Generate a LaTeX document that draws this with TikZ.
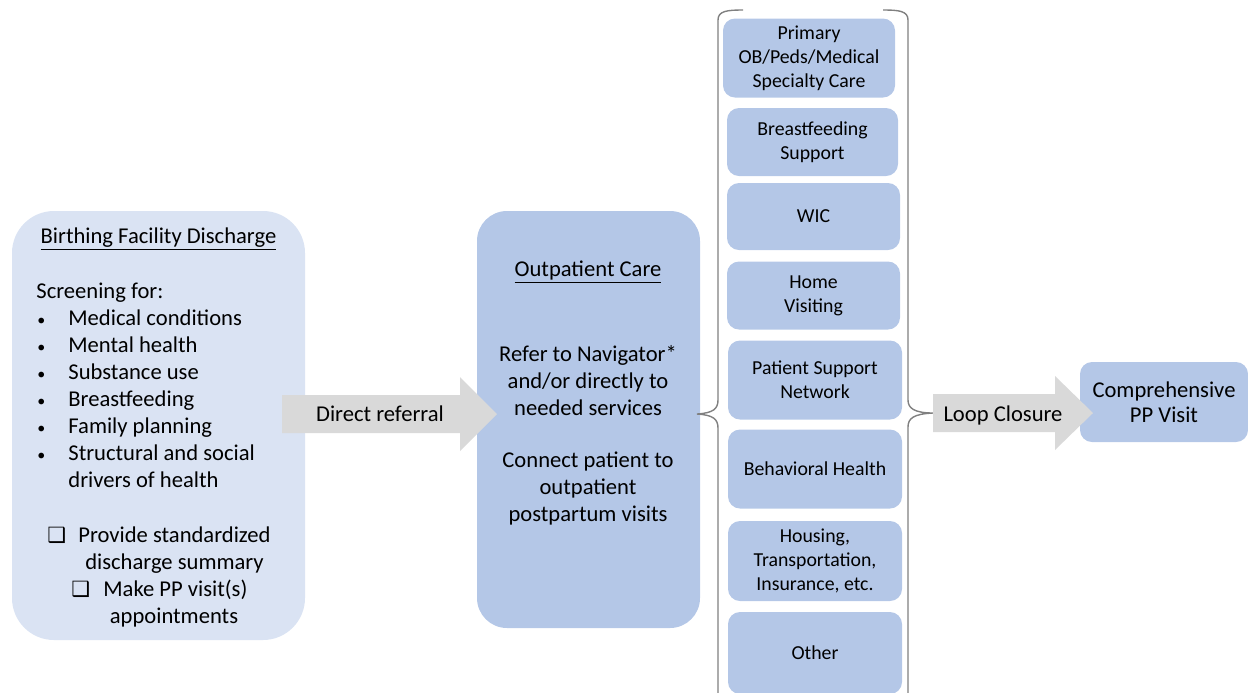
\documentclass[tikz,border=0pt]{standalone}
\usepackage{fontspec}
\setmainfont{Carlito}
\newfontfamily\symfont{DejaVu Sans}
\definecolor{lightblue}{HTML}{DAE3F3}
\definecolor{midblue}{HTML}{B4C7E7}
\definecolor{arrowgray}{HTML}{D9D9D9}
\definecolor{bracegray}{HTML}{808080}
\tikzset{
	txt/.style={inner sep=0pt, font=\fontsize{11.3}{13.5}\selectfont},
	service/.style={fill=midblue, rounded corners=6pt, align=center, inner sep=0pt,
		minimum width=87pt, font=\fontsize{9.9}{12}\selectfont},
	bracket/.style={draw=bracegray, line width=0.7pt},
	chk/.style={inner sep=0pt, font=\symfont\bfseries\fontsize{10.5}{12}\selectfont},
}
\begin{document}
\begin{tikzpicture}[x=0.5pt, y=-0.5pt]
	\clip (0,0) rectangle (1248,692);
	% discharge box
	\node[fill=lightblue, rounded corners=21pt, minimum width=146.5pt, minimum height=214.5pt] (discharge) at (158.5,425.5) {};
	\node[txt, anchor=base] (dtitle) at (158.5,243) {\underline{Birthing Facility Discharge}};
	\node[txt, anchor=base west] (screen) at (36,298) {Screening for:};
	\foreach \y/\t in {325/Medical conditions, 352/Mental health, 379/Substance use, 406/Breastfeeding, 433/Family planning, 460/Structural and social} {
		\node[txt, anchor=base west, font=\fontsize{8}{10}\selectfont] (bul\y) at (37,\y) {\textbullet};
		\node[txt, anchor=base west] (item\y) at (68,\y) {\t};
	}
	\node[txt, anchor=base west] (drivers) at (68,487) {drivers of health};
	\node[chk, anchor=base west] (chk1) at (47,542) {❑};
	\node[txt, anchor=base west] (provide) at (78,542) {Provide standardized};
	\node[txt, anchor=base] (summary) at (174.5,569) {discharge summary};
	\node[chk, anchor=base west] (chk2) at (71,596) {❑};
	\node[txt, anchor=base west] (make) at (103,596) {Make PP visit(s)};
	\node[txt, anchor=base] (appts) at (174,623) {appointments};

	% outpatient box
	\node[fill=midblue, rounded corners=15pt, minimum width=111.5pt, minimum height=208.5pt] (outpatient) at (588.5,419.5) {};
	\node[txt, anchor=base] (otitle) at (588,276) {\underline{Outpatient Care}};
	\node[txt, align=center] (refer) at (588,381) {Refer to Navigator*\\and/or directly to\\needed services};
	\node[txt, align=center] (connect) at (588,488) {Connect patient to\\outpatient\\postpartum visits};

	% services
	\node[service, minimum width=86pt, minimum height=39.5pt] (primary) at (809,58) {Primary\\OB/Peds/Medical\\Specialty Care};
	\node[service, minimum width=85.5pt, minimum height=34pt] (bfeed) at (812.5,142) {Breastfeeding\\Support};
	\node[service, minimum width=86.5pt, minimum height=33.5pt] (wic) at (813.5,216.5) {WIC};
	\node[service, minimum width=86.5pt, minimum height=34pt] (homevisit) at (813.5,295.5) {Home\\Visiting};
	\node[service, minimum height=39.5pt] (support) at (815,380) {Patient Support\\Network};
	\node[service, minimum height=39.5pt] (behav) at (815,469) {Behavioral Health};
	\node[service, minimum height=40pt] (housing) at (815,561) {Housing,\\Transportation,\\Insurance, etc.};
	\node[service, minimum height=41pt] (other) at (815,653) {Other};

	% comprehensive visit
	\node[service, minimum width=84pt, minimum height=40pt, font=\fontsize{11.3}{12.5}\selectfont] (visit) at (1164,402) {Comprehensive\\PP Visit};

	% braces
	\coordinate (ltip) at (697,414);
	\coordinate (rtip) at (933,413);
	\draw[bracket] (743,10) .. controls (727,10) and (718,11) .. (718,20) -- (718,400)
		.. controls (718,409) and (713,413) .. (ltip) .. controls (713,415) and (718,419) .. (718,428) -- (718,700);
	\draw[bracket] (883,10) .. controls (899,10) and (908,11) .. (908,20) -- (908,400)
		.. controls (908,408) and (914,413) .. (rtip) .. controls (914,414) and (908,418) .. (908,427) -- (908,700);

	% block arrows
	\fill[arrowgray] (282,395) -- (460,395) -- (460,377) -- (497,414) -- (460,451) -- (460,433) -- (282,433) -- cycle;
	\node[txt, anchor=base] (referral) at (380,421) {Direct referral};
	\fill[arrowgray] (rtip) ++(0,-19) -- (1055,394) -- (1055,376) -- (1093,413) -- (1055,450) -- (1055,432) -- (933,432) -- cycle;
	\node[txt, anchor=base] (loop) at (1003,421) {Loop Closure};
\end{tikzpicture}
\end{document}
